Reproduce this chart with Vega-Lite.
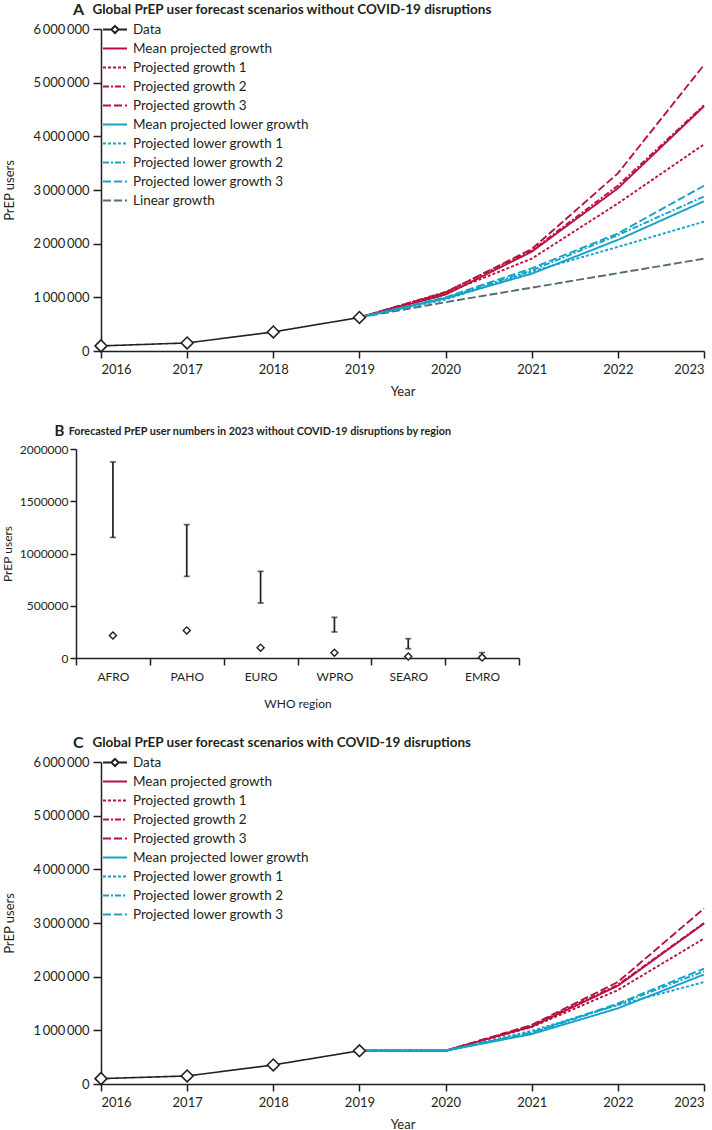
{
  "$schema": "https://vega.github.io/schema/vega-lite/v6.json",
  "padding": {"left": 1, "top": 2, "right": 0, "bottom": 0},
  "background": "white",
  "spacing": 26,
  "config": {
    "font": "Lato",
    "view": {"stroke": null},
    "axis": {"grid": false, "domainColor": "#231f20", "domainWidth": 1.5, "tickColor": "#231f20", "tickWidth": 1.5, "labelColor": "#231f20", "labelFont": "Lato", "labelFontSize": 13, "titleFont": "Lato", "titleFontSize": 13, "titleFontWeight": "normal", "titleColor": "#231f20"},
    "legend": {"labelFont": "Lato", "labelFontSize": 13.5, "labelColor": "#231f20", "labelLimit": 400}
  },
  "resolve": {"scale": {"x": "independent", "y": "independent", "color": "independent", "strokeDash": "independent"}, "legend": {"color": "independent", "strokeDash": "independent"}, "axis": {"x": "independent", "y": "independent"}},
  "datasets": {
    "aProj": [
      {"series": "Mean projected growth", "year": 2019, "users": 625000},
      {"series": "Mean projected growth", "year": 2020, "users": 1050000},
      {"series": "Mean projected growth", "year": 2021, "users": 1850000},
      {"series": "Mean projected growth", "year": 2022, "users": 3030000},
      {"series": "Mean projected growth", "year": 2023, "users": 4560000},
      {"series": "Projected growth 1", "year": 2019, "users": 625000},
      {"series": "Projected growth 1", "year": 2020, "users": 1080000},
      {"series": "Projected growth 1", "year": 2021, "users": 1720000},
      {"series": "Projected growth 1", "year": 2022, "users": 2750000},
      {"series": "Projected growth 1", "year": 2023, "users": 3850000},
      {"series": "Projected growth 2", "year": 2019, "users": 625000},
      {"series": "Projected growth 2", "year": 2020, "users": 1100000},
      {"series": "Projected growth 2", "year": 2021, "users": 1870000},
      {"series": "Projected growth 2", "year": 2022, "users": 3080000},
      {"series": "Projected growth 2", "year": 2023, "users": 4580000},
      {"series": "Projected growth 3", "year": 2019, "users": 625000},
      {"series": "Projected growth 3", "year": 2020, "users": 1090000},
      {"series": "Projected growth 3", "year": 2021, "users": 1900000},
      {"series": "Projected growth 3", "year": 2022, "users": 3310000},
      {"series": "Projected growth 3", "year": 2023, "users": 5330000},
      {"series": "Linear growth", "year": 2019, "users": 625000},
      {"series": "Linear growth", "year": 2020, "users": 910000},
      {"series": "Linear growth", "year": 2021, "users": 1180000},
      {"series": "Linear growth", "year": 2022, "users": 1450000},
      {"series": "Linear growth", "year": 2023, "users": 1720000},
      {"series": "Mean projected lower growth", "year": 2019, "users": 625000},
      {"series": "Mean projected lower growth", "year": 2020, "users": 980000},
      {"series": "Mean projected lower growth", "year": 2021, "users": 1440000},
      {"series": "Mean projected lower growth", "year": 2022, "users": 2070000},
      {"series": "Mean projected lower growth", "year": 2023, "users": 2790000},
      {"series": "Projected lower growth 1", "year": 2019, "users": 625000},
      {"series": "Projected lower growth 1", "year": 2020, "users": 960000},
      {"series": "Projected lower growth 1", "year": 2021, "users": 1480000},
      {"series": "Projected lower growth 1", "year": 2022, "users": 1940000},
      {"series": "Projected lower growth 1", "year": 2023, "users": 2410000},
      {"series": "Projected lower growth 2", "year": 2019, "users": 625000},
      {"series": "Projected lower growth 2", "year": 2020, "users": 990000},
      {"series": "Projected lower growth 2", "year": 2021, "users": 1500000},
      {"series": "Projected lower growth 2", "year": 2022, "users": 2160000},
      {"series": "Projected lower growth 2", "year": 2023, "users": 2880000},
      {"series": "Projected lower growth 3", "year": 2019, "users": 625000},
      {"series": "Projected lower growth 3", "year": 2020, "users": 1000000},
      {"series": "Projected lower growth 3", "year": 2021, "users": 1540000},
      {"series": "Projected lower growth 3", "year": 2022, "users": 2190000},
      {"series": "Projected lower growth 3", "year": 2023, "users": 3080000}
    ],
    "aData": [
      {"series": "Data", "year": 2016, "users": 95000},
      {"series": "Data", "year": 2017, "users": 150000},
      {"series": "Data", "year": 2018, "users": 355000},
      {"series": "Data", "year": 2019, "users": 625000}
    ],
    "b": [
      {"region": "AFRO", "observed": 216000, "low": 1154000, "high": 1876000},
      {"region": "PAHO", "observed": 264000, "low": 781000, "high": 1276000},
      {"region": "EURO", "observed": 99000, "low": 526000, "high": 829000},
      {"region": "WPRO", "observed": 51000, "low": 249000, "high": 389000},
      {"region": "SEARO", "observed": 15000, "low": 89000, "high": 185000},
      {"region": "EMRO", "observed": 5000, "low": 18000, "high": 51000}
    ],
    "cProj": [
      {"series": "Mean projected growth", "year": 2019, "users": 620000},
      {"series": "Mean projected growth", "year": 2020, "users": 620000},
      {"series": "Mean projected growth", "year": 2021, "users": 1070000},
      {"series": "Mean projected growth", "year": 2022, "users": 1830000},
      {"series": "Mean projected growth", "year": 2023, "users": 2990000},
      {"series": "Projected growth 1", "year": 2019, "users": 620000},
      {"series": "Projected growth 1", "year": 2020, "users": 620000},
      {"series": "Projected growth 1", "year": 2021, "users": 1060000},
      {"series": "Projected growth 1", "year": 2022, "users": 1750000},
      {"series": "Projected growth 1", "year": 2023, "users": 2710000},
      {"series": "Projected growth 2", "year": 2019, "users": 620000},
      {"series": "Projected growth 2", "year": 2020, "users": 620000},
      {"series": "Projected growth 2", "year": 2021, "users": 1090000},
      {"series": "Projected growth 2", "year": 2022, "users": 1850000},
      {"series": "Projected growth 2", "year": 2023, "users": 3000000},
      {"series": "Projected growth 3", "year": 2019, "users": 620000},
      {"series": "Projected growth 3", "year": 2020, "users": 620000},
      {"series": "Projected growth 3", "year": 2021, "users": 1100000},
      {"series": "Projected growth 3", "year": 2022, "users": 1900000},
      {"series": "Projected growth 3", "year": 2023, "users": 3270000},
      {"series": "Mean projected lower growth", "year": 2019, "users": 620000},
      {"series": "Mean projected lower growth", "year": 2020, "users": 620000},
      {"series": "Mean projected lower growth", "year": 2021, "users": 930000},
      {"series": "Mean projected lower growth", "year": 2022, "users": 1410000},
      {"series": "Mean projected lower growth", "year": 2023, "users": 2040000},
      {"series": "Projected lower growth 1", "year": 2019, "users": 620000},
      {"series": "Projected lower growth 1", "year": 2020, "users": 620000},
      {"series": "Projected lower growth 1", "year": 2021, "users": 990000},
      {"series": "Projected lower growth 1", "year": 2022, "users": 1470000},
      {"series": "Projected lower growth 1", "year": 2023, "users": 1900000},
      {"series": "Projected lower growth 2", "year": 2019, "users": 620000},
      {"series": "Projected lower growth 2", "year": 2020, "users": 620000},
      {"series": "Projected lower growth 2", "year": 2021, "users": 950000},
      {"series": "Projected lower growth 2", "year": 2022, "users": 1480000},
      {"series": "Projected lower growth 2", "year": 2023, "users": 2100000},
      {"series": "Projected lower growth 3", "year": 2019, "users": 620000},
      {"series": "Projected lower growth 3", "year": 2020, "users": 620000},
      {"series": "Projected lower growth 3", "year": 2021, "users": 960000},
      {"series": "Projected lower growth 3", "year": 2022, "users": 1500000},
      {"series": "Projected lower growth 3", "year": 2023, "users": 2150000}
    ],
    "cData": [
      {"series": "Data", "year": 2016, "users": 100000},
      {"series": "Data", "year": 2017, "users": 150000},
      {"series": "Data", "year": 2018, "users": 355000},
      {"series": "Data", "year": 2019, "users": 620000}
    ]
  },
  "vconcat": [
    {
      "width": 603,
      "height": 322,
      "title": {"text": "A", "subtitle": "\u200b\u2003\u2002\u2009\u200aGlobal PrEP user forecast scenarios without COVID-19 disruptions", "anchor": "start", "frame": "group", "dx": -28, "fontSize": 16, "fontWeight": "bold", "font": "Lato", "color": "#231f20", "subtitleFont": "Lato", "subtitleFontSize": 13.5, "subtitleFontWeight": "bold", "subtitleColor": "#231f20", "subtitlePadding": -15, "offset": 2},
      "layer": [
        {
          "data": {"name": "aProj"},
          "mark": {"type": "line", "strokeWidth": 1.9},
          "encoding": {
            "x": {"field": "year", "type": "quantitative", "scale": {"domain": [2016, 2023], "nice": false}, "axis": {"title": "Year", "values": [2016, 2017, 2018, 2019, 2020, 2021, 2022, 2023], "format": "d", "tickSize": 7, "labelPadding": 5, "titlePadding": 9}},
            "y": {"field": "users", "type": "quantitative", "scale": {"domain": [0, 6000000], "nice": false}, "axis": {"title": "PrEP users", "values": [0, 1000000, 2000000, 3000000, 4000000, 5000000, 6000000], "labelExpr": "replace(replace(format(datum.value, ','), ',', '\u2009'), ',', '\u2009')", "tickSize": 8, "labelPadding": 4, "titlePadding": 16}},
            "color": {"field": "series", "type": "nominal", "scale": {"domain": ["Data", "Mean projected growth", "Projected growth 1", "Projected growth 2", "Projected growth 3", "Mean projected lower growth", "Projected lower growth 1", "Projected lower growth 2", "Projected lower growth 3", "Linear growth"], "range": ["#231f20", "#b8123f", "#b8123f", "#b8123f", "#b8123f", "#14a2c9", "#14a2c9", "#14a2c9", "#14a2c9", "#566b78"]}, "legend": {"title": null, "orient": "none", "legendX": 1, "legendY": -9, "symbolType": "stroke", "symbolSize": 576, "symbolStrokeWidth": 2, "labelOffset": 5, "rowPadding": 0, "clipHeight": 19, "encode": {"symbols": {"update": {"shape": {"signal": "datum.value === 'Data' ? 'M-1,0H-0.3M0.3,0H1M0,-0.3L0.3,0L0,0.3L-0.3,0Z' : 'stroke'"}}}}}},
            "strokeDash": {"field": "series", "type": "nominal", "scale": {"domain": ["Data", "Mean projected growth", "Projected growth 1", "Projected growth 2", "Projected growth 3", "Mean projected lower growth", "Projected lower growth 1", "Projected lower growth 2", "Projected lower growth 3", "Linear growth"], "range": [[1, 0], [1, 0], [3, 2], [6, 2, 2, 2], [8, 3], [1, 0], [3, 2], [6, 2, 2, 2], [8, 3], [8, 3]]}, "legend": {"title": null, "orient": "none", "legendX": 1, "legendY": -9, "symbolType": "stroke", "symbolSize": 576, "symbolStrokeWidth": 2, "labelOffset": 5, "rowPadding": 0, "clipHeight": 19}}
          }
        },
        {
          "data": {"name": "aData"},
          "mark": {"type": "line", "strokeWidth": 1.6},
          "encoding": {
            "x": {"field": "year", "type": "quantitative"},
            "y": {"field": "users", "type": "quantitative"},
            "color": {"field": "series", "type": "nominal"},
            "strokeDash": {"field": "series", "type": "nominal"}
          }
        },
        {
          "data": {"name": "aData"},
          "mark": {"type": "point", "shape": "diamond", "size": 140, "filled": true, "fill": "white", "stroke": "#231f20", "strokeWidth": 1.6, "opacity": 1},
          "encoding": {
            "x": {"field": "year", "type": "quantitative"},
            "y": {"field": "users", "type": "quantitative"}
          }
        }
      ]
    },
    {
      "width": 418,
      "height": 209,
      "title": {"text": "B", "subtitle": "\u200b\u2003\u2002\u200aForecasted PrEP user numbers in 2023 without COVID-19 disruptions by region", "anchor": "start", "frame": "group", "dx": -46.5, "fontSize": 15, "fontWeight": "bold", "font": "Lato", "color": "#231f20", "subtitleFont": "Lato", "subtitleFontSize": 10.8, "subtitleFontWeight": "bold", "subtitleColor": "#231f20", "subtitlePadding": -13, "offset": 4},
      "data": {"name": "b"},
      "encoding": {
        "x": {"field": "region", "type": "nominal", "sort": null, "scale": {"type": "band", "domain": ["AFRO", "PAHO", "EURO", "WPRO", "SEARO", "EMRO"], "range": [-25, 418], "paddingInner": 0, "paddingOuter": 0}, "axis": {"title": "WHO region", "labelAngle": 0, "tickBand": "extent", "tickSize": 7, "labelPadding": 6, "titlePadding": 16, "labelFontSize": 12, "titleFontSize": 12}}
      },
      "layer": [
        {
          "mark": {"type": "rule", "strokeWidth": 1.7, "color": "#231f20"},
          "encoding": {
            "y": {"field": "low", "type": "quantitative", "scale": {"domain": [0, 2000000], "nice": false}, "axis": {"title": "PrEP users", "values": [0, 500000, 1000000, 1500000, 2000000], "format": "d", "offset": 25, "tickSize": 6, "labelPadding": 2, "titlePadding": 5, "labelFontSize": 12, "titleFontSize": 12}},
            "y2": {"field": "high"}
          }
        },
        {
          "mark": {"type": "tick", "size": 6, "thickness": 1.7, "color": "#231f20"},
          "encoding": {"y": {"field": "low", "type": "quantitative"}}
        },
        {
          "mark": {"type": "tick", "size": 6, "thickness": 1.7, "color": "#231f20"},
          "encoding": {"y": {"field": "high", "type": "quantitative"}}
        },
        {
          "mark": {"type": "point", "shape": "diamond", "size": 50, "filled": true, "fill": "white", "stroke": "#231f20", "strokeWidth": 1.4, "opacity": 1},
          "encoding": {"y": {"field": "observed", "type": "quantitative"}}
        }
      ]
    },
    {
      "width": 603,
      "height": 322,
      "title": {"text": "C", "subtitle": "\u200b\u2003\u2002\u2009\u200aGlobal PrEP user forecast scenarios with COVID-19 disruptions", "anchor": "start", "frame": "group", "dx": -28, "fontSize": 16, "fontWeight": "bold", "font": "Lato", "color": "#231f20", "subtitleFont": "Lato", "subtitleFontSize": 13.5, "subtitleFontWeight": "bold", "subtitleColor": "#231f20", "subtitlePadding": -15, "offset": 2},
      "layer": [
        {
          "data": {"name": "cProj"},
          "mark": {"type": "line", "strokeWidth": 1.9},
          "encoding": {
            "x": {"field": "year", "type": "quantitative", "scale": {"domain": [2016, 2023], "nice": false}, "axis": {"title": "Year", "values": [2016, 2017, 2018, 2019, 2020, 2021, 2022, 2023], "format": "d", "tickSize": 7, "labelPadding": 5, "titlePadding": 9}},
            "y": {"field": "users", "type": "quantitative", "scale": {"domain": [0, 6000000], "nice": false}, "axis": {"title": "PrEP users", "values": [0, 1000000, 2000000, 3000000, 4000000, 5000000, 6000000], "labelExpr": "replace(replace(format(datum.value, ','), ',', '\u2009'), ',', '\u2009')", "tickSize": 8, "labelPadding": 4, "titlePadding": 16}},
            "color": {"field": "series", "type": "nominal", "scale": {"domain": ["Data", "Mean projected growth", "Projected growth 1", "Projected growth 2", "Projected growth 3", "Mean projected lower growth", "Projected lower growth 1", "Projected lower growth 2", "Projected lower growth 3"], "range": ["#231f20", "#b8123f", "#b8123f", "#b8123f", "#b8123f", "#14a2c9", "#14a2c9", "#14a2c9", "#14a2c9"]}, "legend": {"title": null, "orient": "none", "legendX": 1, "legendY": -9, "symbolType": "stroke", "symbolSize": 576, "symbolStrokeWidth": 2, "labelOffset": 5, "rowPadding": 0, "clipHeight": 19, "encode": {"symbols": {"update": {"shape": {"signal": "datum.value === 'Data' ? 'M-1,0H-0.3M0.3,0H1M0,-0.3L0.3,0L0,0.3L-0.3,0Z' : 'stroke'"}}}}}},
            "strokeDash": {"field": "series", "type": "nominal", "scale": {"domain": ["Data", "Mean projected growth", "Projected growth 1", "Projected growth 2", "Projected growth 3", "Mean projected lower growth", "Projected lower growth 1", "Projected lower growth 2", "Projected lower growth 3"], "range": [[1, 0], [1, 0], [3, 2], [6, 2, 2, 2], [8, 3], [1, 0], [3, 2], [6, 2, 2, 2], [8, 3]]}, "legend": {"title": null, "orient": "none", "legendX": 1, "legendY": -9, "symbolType": "stroke", "symbolSize": 576, "symbolStrokeWidth": 2, "labelOffset": 5, "rowPadding": 0, "clipHeight": 19}}
          }
        },
        {
          "data": {"name": "cData"},
          "mark": {"type": "line", "strokeWidth": 1.6},
          "encoding": {
            "x": {"field": "year", "type": "quantitative"},
            "y": {"field": "users", "type": "quantitative"},
            "color": {"field": "series", "type": "nominal"},
            "strokeDash": {"field": "series", "type": "nominal"}
          }
        },
        {
          "data": {"name": "cData"},
          "mark": {"type": "point", "shape": "diamond", "size": 140, "filled": true, "fill": "white", "stroke": "#231f20", "strokeWidth": 1.6, "opacity": 1},
          "encoding": {
            "x": {"field": "year", "type": "quantitative"},
            "y": {"field": "users", "type": "quantitative"}
          }
        }
      ]
    }
  ]
}
